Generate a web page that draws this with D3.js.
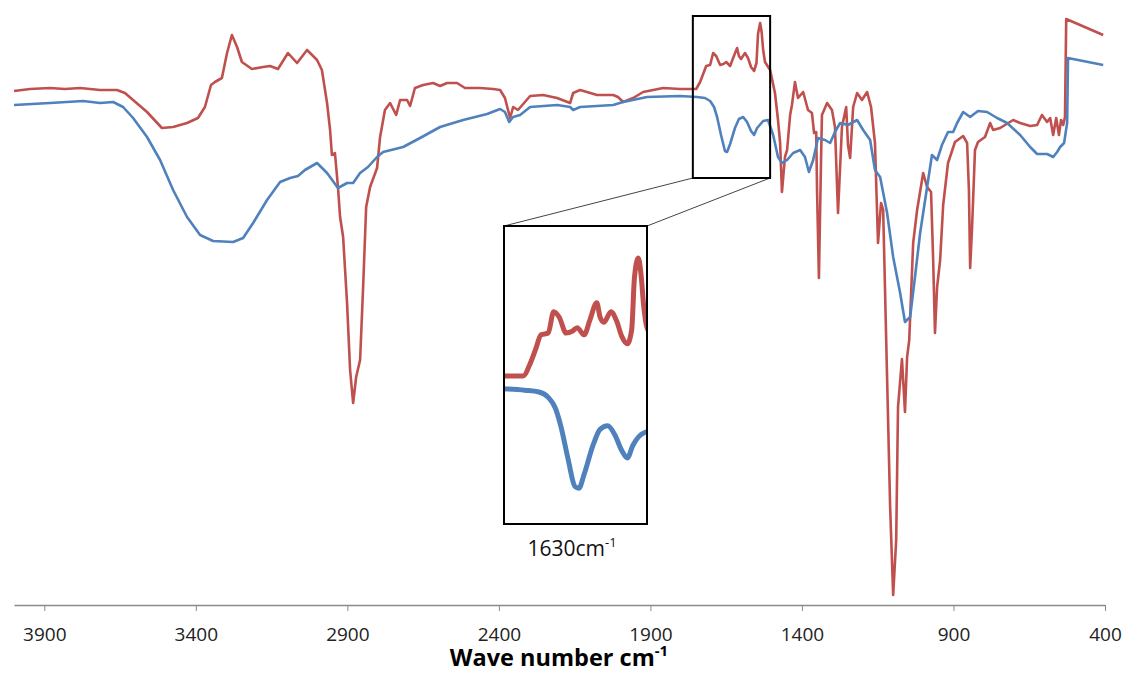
<!DOCTYPE html>
<html>
<head>
<meta charset="utf-8">
<script src="https://cdn.jsdelivr.net/npm/d3@7/dist/d3.min.js"></script>
<style>
  html, body { margin: 0; padding: 0; background: #fff; }
  svg { display: block; }
</style>
</head>
<body>
<svg id="chart" width="1124" height="673"></svg>
<script>
// ---- DATA ----
const tickLabels = [3900, 3400, 2900, 2400, 1900, 1400, 900, 400];
const xDomain = [4000, 400];
const yDomain = [0, 600];           // arbitrary transmittance units
const zoomWave = [1760, 1505];      // region magnified in the inset
const zoomT = [427, 589];
const insetWave = [1784, 1522];
const insetT = [433, 600];
const insetLabel = "1630cm";
const axisTitle = "Wave number cm";

// [wavenumber, transmittance]
const redSeries = [
  [4000,514],[3947,516],[3881,517],[3832,516],[3782,517],[3716,515],[3660,515],[3634,512],
  [3607,505],[3561,493],[3512,477],[3475,478],[3429,482],[3393,487],[3370,498],[3350,520],
  [3337,523],[3314,527],[3297,552],[3281,570],[3264,558],[3248,543],[3215,536],[3178,538],
  [3155,539],[3129,536],[3096,552],[3066,542],[3033,555],[3000,545],[2984,535],[2967,502],
  [2957,475],[2951,450],[2941,452],[2931,418],[2924,388],[2914,368],[2901,302],[2891,235],
  [2881,202],[2871,228],[2858,245],[2848,318],[2838,398],[2825,418],[2802,437],[2792,468],
  [2776,495],[2759,502],[2739,490],[2726,505],[2703,505],[2693,499],[2677,517],[2650,520],
  [2617,522],[2594,519],[2571,522],[2538,522],[2512,517],[2462,517],[2419,516],[2396,515],
  [2380,507],[2363,487],[2353,498],[2337,495],[2297,509],[2254,510],[2208,507],[2165,502],
  [2155,512],[2132,515],[2076,510],[2023,510],[2007,508],[1990,503],[1957,507],[1924,513],
  [1858,517],[1802,516],[1759,516],[1749,516],[1736,523],[1726,531],[1716,539],[1703,540],
  [1693,552],[1683,549],[1670,540],[1659,541],[1650,543],[1637,539],[1627,547],[1614,557],
  [1608,549],[1601,546],[1588,552],[1578,547],[1568,538],[1558,534],[1550,542],[1545,571],
  [1538,582],[1533,573],[1528,555],[1522,543],[1505,535],[1489,512],[1479,485],[1472,462],
  [1466,413],[1456,448],[1449,455],[1439,490],[1433,500],[1423,523],[1413,507],[1396,513],
  [1380,495],[1367,492],[1360,472],[1353,473],[1350,412],[1344,327],[1337,445],[1334,490],
  [1317,502],[1301,495],[1291,478],[1281,392],[1268,478],[1254,498],[1248,460],[1241,447],
  [1231,498],[1218,512],[1202,505],[1185,513],[1172,498],[1159,462],[1149,362],[1139,402],
  [1132,395],[1122,265],[1109,98],[1099,10],[1089,65],[1083,198],[1070,246],[1060,193],
  [1053,248],[1046,265],[1033,362],[1020,395],[1000,432],[987,418],[974,413],[967,345],
  [961,272],[954,318],[944,345],[934,400],[918,442],[895,463],[868,469],[855,462],
  [849,415],[845,337],[839,375],[829,455],[819,463],[796,468],[779,482],[769,475],
  [746,477],[703,485],[680,482],[647,479],[624,480],[608,490],[591,483],[581,487],
  [571,470],[561,487],[552,470],[545,485],[538,480],[532,488],[528,586],[406,570]
];

const blueSeries = [
  [4000,500],[3881,502],[3772,504],[3716,502],[3673,503],[3640,498],[3607,487],[3561,468],
  [3518,445],[3475,415],[3429,388],[3386,370],[3343,364],[3277,363],[3244,367],[3211,382],
  [3165,405],[3122,423],[3089,427],[3063,429],[3040,435],[3000,442],[2967,432],[2931,417],
  [2901,422],[2881,422],[2858,432],[2832,438],[2802,448],[2782,453],[2716,458],[2660,467],
  [2594,478],[2518,485],[2439,491],[2396,496],[2380,493],[2366,483],[2353,488],[2330,490],
  [2297,498],[2208,500],[2165,498],[2155,495],[2132,498],[2023,500],[1990,503],[1911,508],
  [1802,509],[1746,508],[1720,507],[1703,504],[1690,498],[1680,488],[1667,470],[1654,454],
  [1647,453],[1637,461],[1621,477],[1608,486],[1594,488],[1581,483],[1568,474],[1558,470],
  [1548,477],[1528,484],[1512,485],[1495,470],[1479,448],[1466,442],[1449,445],[1429,452],
  [1406,455],[1390,448],[1377,433],[1363,445],[1347,467],[1324,465],[1307,462],[1291,473],
  [1274,482],[1248,480],[1218,485],[1198,475],[1175,465],[1159,435],[1142,428],[1119,392],
  [1099,348],[1076,312],[1060,283],[1043,288],[1027,328],[1010,372],[987,418],[971,450],
  [954,445],[938,460],[918,473],[901,473],[888,482],[868,493],[845,488],[819,494],
  [789,493],[756,487],[723,482],[680,470],[647,458],[624,451],[591,451],[571,448],
  [558,453],[548,458],[535,462],[525,482],[522,547],[406,540]
];

const seriesColors = { red: "#c0504d", blue: "#4f81bd" };

// ---- DRAW ----
const svg = d3.select("#chart");
const x = d3.scaleLinear().domain(xDomain).range([14, 1105]);
const y = d3.scaleLinear().domain(yDomain).range([605, 5]);

const line = d3.line().x(d => x(d[0])).y(d => y(d[1]));

svg.append("path").datum(redSeries)
  .attr("d", line).attr("fill", "none")
  .attr("stroke", seriesColors.red).attr("stroke-width", 2.6)
  .attr("stroke-linejoin", "round");
svg.append("path").datum(blueSeries)
  .attr("d", line).attr("fill", "none")
  .attr("stroke", seriesColors.blue).attr("stroke-width", 2.6)
  .attr("stroke-linejoin", "round");

// axis
const axis = d3.axisBottom(x).tickValues(tickLabels).tickSize(6).tickSizeOuter(0)
  .tickFormat(d3.format("d"));
const gAxis = svg.append("g").attr("transform", "translate(0,605)").call(axis);
gAxis.select(".domain").attr("stroke", "#8a8a8a").attr("stroke-width", 1.3);
gAxis.selectAll(".tick line").attr("stroke", "#8a8a8a").attr("stroke-width", 1);
gAxis.selectAll(".tick text")
  .attr("font-family", "'Open Sans', sans-serif")
  .attr("font-size", 19).attr("fill", "#222").attr("dy", "0").attr("y", 36);

// axis title
const title = svg.append("text")
  .attr("x", 559).attr("y", 666).attr("text-anchor", "middle")
  .attr("font-family", "'Open Sans', sans-serif").attr("font-weight", "bold")
  .attr("font-size", 23.5).attr("fill", "#000");
title.append("tspan").text(axisTitle);
title.append("tspan").text("-1").attr("font-size", 15).attr("dy", -10);

// zoom box on main chart
const zx0 = x(zoomWave[0]), zx1 = x(zoomWave[1]);
const zy0 = y(zoomT[1]), zy1 = y(zoomT[0]);

// inset geometry
const ix0 = 504, ix1 = 647, iy0 = 226, iy1 = 524;

// connector lines
svg.append("line").attr("x1", zx0).attr("y1", zy1).attr("x2", ix0).attr("y2", iy0)
  .attr("stroke", "#444").attr("stroke-width", 1);
svg.append("line").attr("x1", zx1).attr("y1", zy1).attr("x2", ix1).attr("y2", iy0)
  .attr("stroke", "#444").attr("stroke-width", 1);

svg.append("rect").attr("x", zx0).attr("y", zy0)
  .attr("width", zx1 - zx0).attr("height", zy1 - zy0)
  .attr("fill", "none").attr("stroke", "#000").attr("stroke-width", 2);

// inset
const xi = d3.scaleLinear().domain(insetWave).range([ix0, ix1]);
const yi = d3.scaleLinear().domain(insetT).range([iy1, iy0]);
const lineI = d3.line().x(d => xi(d[0])).y(d => yi(d[1])).curve(d3.curveMonotoneX);

svg.append("defs").append("clipPath").attr("id", "insetClip")
  .append("rect").attr("x", ix0).attr("y", iy0).attr("width", ix1 - ix0).attr("height", iy1 - iy0);

svg.append("rect").attr("x", ix0).attr("y", iy0)
  .attr("width", ix1 - ix0).attr("height", iy1 - iy0).attr("fill", "#fff");

const gI = svg.append("g").attr("clip-path", "url(#insetClip)");
const inRange = d => d[0] <= insetWave[0] + 40 && d[0] >= insetWave[1] - 40;
gI.append("path").datum(redSeries.filter(inRange))
  .attr("d", lineI).attr("fill", "none")
  .attr("stroke", seriesColors.red).attr("stroke-width", 5)
  .attr("stroke-linejoin", "round");
gI.append("path").datum(blueSeries.filter(inRange))
  .attr("d", lineI).attr("fill", "none")
  .attr("stroke", seriesColors.blue).attr("stroke-width", 5)
  .attr("stroke-linejoin", "round");

svg.append("rect").attr("x", ix0).attr("y", iy0)
  .attr("width", ix1 - ix0).attr("height", iy1 - iy0)
  .attr("fill", "none").attr("stroke", "#000").attr("stroke-width", 2);

const lab = svg.append("text")
  .attr("x", 572).attr("y", 556).attr("text-anchor", "middle")
  .attr("font-family", "'Open Sans', sans-serif")
  .attr("font-size", 21).attr("fill", "#111");
lab.append("tspan").text(insetLabel);
lab.append("tspan").text("-1").attr("font-size", 13).attr("dy", -9);
</script>
</body>
</html>
